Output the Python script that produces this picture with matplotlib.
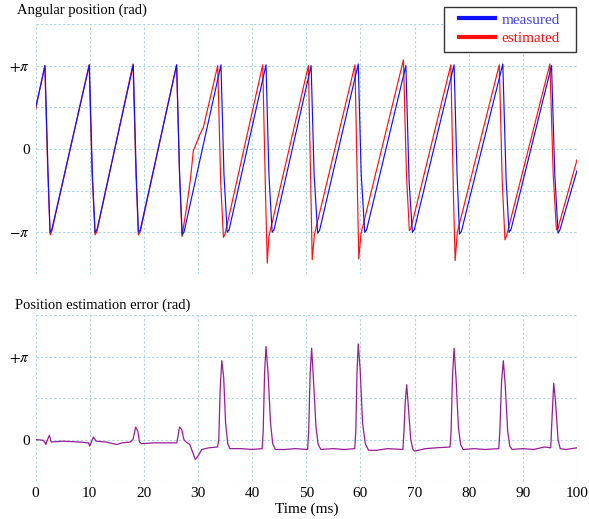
import numpy as np
from matplotlib import pyplot as plt
from matplotlib.lines import Line2D
from matplotlib.patches import Rectangle

# values; angles in units of pi, time in ms
measured_t = [0, 1.75, 2.30, 2.68, 3.0, 9.94, 10.5, 11.0, 11.35, 18.06, 18.6, 19.0, 19.35,
              26.07, 26.6, 27.1, 27.45, 34.25, 34.8, 35.4, 35.75, 42.57, 43.1, 43.7, 44.05,
              50.9, 51.45, 52.1, 52.45, 59.6, 60.15, 60.8, 61.15, 68.4, 69.0, 69.6, 69.95,
              77.3, 77.85, 78.3, 78.65, 86.3, 86.9, 87.45, 87.8, 95.3, 95.9, 96.5, 96.85, 100]
measured_y = [0.49, 1.00, -0.25, -1.00, -0.97, 1.01, -0.30, -1.00, -0.97, 1.01, -0.30, -1.00, -0.97,
              1.01, -0.30, -1.03, -0.99, 1.01, -0.30, -1.00, -0.97, 1.01, -0.30, -1.00, -0.97,
              1.00, -0.30, -1.01, -0.98, 1.02, -0.30, -1.00, -0.97, 1.00, -0.40, -1.00, -0.97,
              1.01, -0.30, -1.02, -0.99, 1.02, -0.35, -1.00, -0.97, 1.00, -0.30, -1.01, -0.97, -0.26]

estimated_t = [0, 1.72, 2.25, 2.7, 3.0, 9.9, 10.45, 11.0, 11.35, 18.0, 18.55, 19.0, 19.35,
               26.05, 26.6, 27.05, 27.9, 28.65, 29.15, 30.4, 31.0, 33.65, 34.2, 34.7, 35.0,
               41.96, 42.5, 42.8, 43.1, 50.4, 50.85, 51.1, 51.5, 59.0, 59.45, 59.7, 60.1,
               67.95, 68.5, 69.04, 69.3, 76.7, 77.2, 77.5, 77.9, 85.65, 86.2, 86.7, 87.0,
               95.0, 95.6, 96.2, 96.5, 100]
estimated_y = [0.47, 1.00, -0.25, -1.03, -0.99, 1.01, -0.30, -1.03, -0.99, 1.02, -0.30, -1.03, -0.99,
               1.01, -0.30, -1.05, -0.70, -0.34, -0.02, 0.18, 0.26, 1.00, -0.40, -1.06, -1.02,
               1.01, -0.60, -1.37, -1.05, 1.00, -0.50, -1.33, -1.03, 1.01, -0.50, -1.32, -1.02,
               1.07, -0.30, -0.98, -0.96, 1.01, -0.60, -1.34, -1.00, 1.01, -0.40, -1.09, -1.04,
               1.02, -0.30, -0.97, -0.95, -0.13]

error_t = [0, 1.5, 1.9, 2.1, 2.55, 2.9, 5, 8, 9.8, 10.0, 10.3, 10.7, 11.2, 13, 15, 16, 17.5,
           18.0, 18.5, 18.9, 19.2, 19.6, 22, 25, 26.1, 26.6, 27.0, 27.4, 27.8, 28.5, 29.0, 29.5,
           30.0, 30.7, 32, 33.6, 33.85, 34.1, 34.4, 34.75, 35.1, 35.5, 35.9, 38, 40, 41.85,
           42.05, 42.3, 42.57, 42.95, 43.4, 43.8, 44.3, 46, 48, 50.25, 50.45, 50.72, 51.0, 51.35,
           51.8, 52.2, 52.7, 55, 57, 58.95, 59.15, 59.37, 59.6, 59.95, 60.4, 60.9, 61.5, 63, 65,
           67.85, 68.05, 68.28, 68.55, 68.85, 69.3, 69.7, 70.0, 72, 74, 76.55, 76.75, 77.0, 77.3,
           77.65, 78.1, 78.5, 79, 81, 83, 85.55, 85.75, 86.07, 86.4, 86.75, 87.2, 87.6, 88, 90, 92,
           94, 95.15, 95.35, 95.7, 96.05, 96.5, 96.9, 98, 100]
error_y = [0.00, -0.01, -0.06, -0.02, 0.05, -0.03, -0.02, -0.03, -0.04, -0.08, -0.03, 0.03, -0.02,
           -0.03, -0.06, -0.04, -0.03, 0.00, 0.15, 0.10, -0.03, -0.05, -0.04, -0.04, -0.04, 0.15,
           0.12, 0.00, -0.03, -0.06, -0.15, -0.24, -0.20, -0.12, -0.10, -0.09, 0.00, 0.60, 0.95,
           0.75, 0.20, -0.05, -0.11, -0.11, -0.12, -0.11, 0.10, 0.80, 1.12, 0.80, 0.20, -0.05,
           -0.12, -0.12, -0.11, -0.12, 0.10, 0.80, 1.10, 0.70, 0.15, -0.06, -0.12, -0.11, -0.12,
           -0.11, 0.10, 0.80, 1.15, 0.85, 0.20, -0.05, -0.13, -0.13, -0.11, -0.12, 0.10, 0.45,
           0.66, 0.40, 0.00, -0.12, -0.14, -0.11, -0.10, -0.09, 0.10, 0.75, 1.10, 0.75, 0.15,
           -0.06, -0.12, -0.11, -0.12, -0.11, 0.10, 0.70, 0.95, 0.65, 0.10, -0.08, -0.12, -0.11,
           -0.12, -0.09, -0.10, 0.20, 0.68, 0.45, 0.00, -0.11, -0.12, -0.10]

x_ticks = list(range(0, 101, 10))

plt.rcParams['font.family'] = 'Liberation Serif'
plt.rcParams['mathtext.fontset'] = 'stix'

grid_color = '#a9d6e5'
blue = '#1010ff'
red = '#ff1010'
purple = '#9a1b9a'

fig = plt.figure(figsize=(5.89, 5.19), dpi=100)
ax1 = fig.add_axes([0.0603, 0.4721, 0.9193, 0.4817])
ax2 = fig.add_axes([0.0603, 0.0732, 0.9193, 0.3198])

for ax in (ax1, ax2):
    for s in ax.spines.values():
        s.set_visible(False)
    ax.set_xlim(0, 100)
    ax.set_xticks(x_ticks)
    ax.grid(True, color=grid_color, linestyle=(0, (2, 2)), linewidth=0.8)
    ax.set_axisbelow(True)
    ax.tick_params(length=0, labelsize=11, pad=4)

ax1.plot(np.array(measured_t), np.pi * np.array(measured_y), color=blue, lw=0.85, zorder=3)
ax1.plot(np.array(estimated_t), np.pi * np.array(estimated_y), color=red, lw=0.85, zorder=2)
ax1.set_ylim(-1.5 * np.pi, 1.5 * np.pi)
ax1.set_yticks(np.pi * np.array([-1.5, -1, -0.5, 0, 0.5, 1, 1.5]))
ax1.set_yticklabels(['', r'$-\pi$', '', '0', '', r'$+\pi$', ''])
ax1.set_xticklabels([])

ax2.plot(np.array(error_t), np.pi * np.array(error_y), color=purple, lw=0.9, zorder=3)
ax2.set_ylim(-0.5 * np.pi, 1.5 * np.pi)
ax2.set_yticks(np.pi * np.array([-0.5, 0, 0.5, 1, 1.5]))
ax2.set_yticklabels(['', '0', '', r'$+\pi$', ''])
ax2.set_xticklabels([str(v) for v in x_ticks])
ax2.set_xlabel('Time (ms)', fontsize=11, labelpad=2)

fig.text(0.029, 0.981, 'Angular position (rad)', fontsize=10.5, va='center', ha='left')
fig.text(0.025, 0.412, 'Position estimation error (rad)', fontsize=10.5, va='center', ha='left')

# legend: frame drawn separately so the side padding can be wider than the vertical one
fig.patches.append(Rectangle((0.7538, 0.8998), 0.2241, 0.0867, transform=fig.transFigure,
                             facecolor='white', edgecolor='#333333', lw=1.0, zorder=5))
handles = [Line2D([], [], color=blue, lw=3), Line2D([], [], color=red, lw=3)]
leg = fig.legend(handles, ['measured', 'estimated'], loc='upper left',
                 bbox_to_anchor=(0.779, 0.975), borderaxespad=0, borderpad=0, fontsize=11,
                 frameon=False, handlelength=2.35, handletextpad=0.45, labelspacing=0.3)
leg.set_zorder(6)
for txt, c in zip(leg.get_texts(), ['#4545e0', red]):
    txt.set_color(c)

fig.savefig('out.png', dpi=100)
